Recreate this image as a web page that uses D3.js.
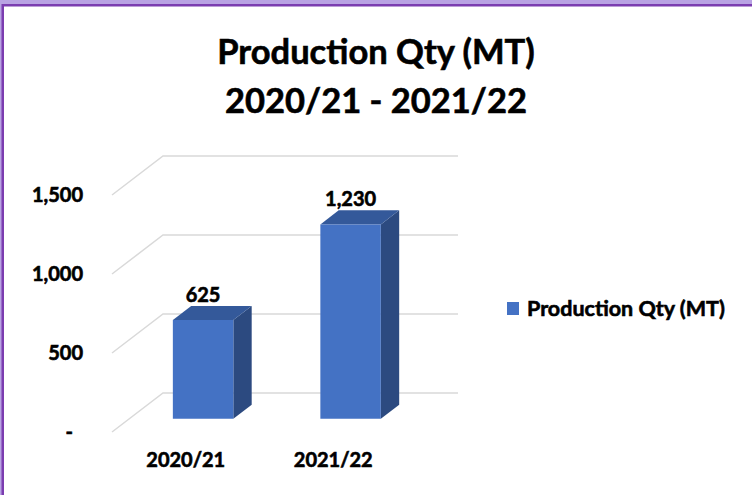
<!DOCTYPE html>
<html>
<head>
<meta charset="utf-8">
<script src="https://cdn.jsdelivr.net/npm/d3@7/dist/d3.min.js"></script>
<style>
  body { margin: 0; background: #fff; }
  text { font-family: Lato, 'Open Sans', sans-serif; font-weight: bold; fill: #000; stroke: #000; stroke-width: 0.6px; }
</style>
</head>
<body>
<svg id="chart" width="752" height="495"></svg>
<script>
// data
const categories = ['2020/21', '2021/22'];
const values = [625, 1230];
const yTicks = [0, 500, 1000, 1500];
const seriesName = 'Production Qty (MT)';
const titleLines = ['Production Qty (MT)', '2020/21 - 2021/22'];

const svg = d3.select('#chart');

// frame (purple border top/left)
svg.append('rect').attr('x', 0).attr('y', 0).attr('width', 752).attr('height', 5).attr('fill', '#b9a3e3');
svg.append('rect').attr('x', 0).attr('y', 0).attr('width', 2).attr('height', 495).attr('fill', '#b9a3e3');
svg.append('rect').attr('x', 2).attr('y', 4).attr('width', 750).attr('height', 2.5).attr('fill', '#7b3db0');
svg.append('rect').attr('x', 1.5).attr('y', 4).attr('width', 2.5).attr('height', 491).attr('fill', '#7b3db0');

// 3d-ish projection: front floor line + depth vector
const floorY = 432, depthX = 51, depthY = 39;
const x = d3.scaleBand().domain(categories).range([112, 407]).paddingInner(0.59).paddingOuter(0.295);
const y = d3.scaleLinear().domain([0, 1500]).range([0, 237]);
const pt = (px, v, t) => [px + t * depthX, floorY - t * depthY - y(v)];

const left = x.range()[0], right = x.range()[1];

// gridlines (side wall + back wall)
svg.append('g').selectAll('polyline')
  .data(yTicks)
  .join('polyline')
  .attr('points', d => [pt(left, d, 0), pt(left, d, 1), pt(right, d, 1)].map(p => p.join(',')).join(' '))
  .attr('fill', 'none')
  .attr('stroke', '#d9d9d9')
  .attr('stroke-width', 1.5);

// y tick labels
svg.append('g').selectAll('text')
  .data(yTicks)
  .join('text')
  .attr('x', 83)
  .attr('dx', d => d === 0 ? -10 : 0)
  .attr('y', d => pt(left, d, 0)[1])
  .attr('dy', '0.36em')
  .attr('text-anchor', 'end')
  .style('font-size', '20px')
  .text(d => d === 0 ? '-' : d3.format(',')(d));

// bars
const t1 = 0.34, t2 = 0.70;
const bw = x.bandwidth();
const bars = svg.append('g').selectAll('g')
  .data(categories.map((c, i) => ({ c, v: values[i] })))
  .join('g');

const poly = pts => pts.map(p => p.join(',')).join(' ');

bars.append('polygon') // side
  .attr('points', d => {
    const x1 = x(d.c) + bw;
    return poly([pt(x1, 0, t1), pt(x1, d.v, t1), pt(x1, d.v, t2), pt(x1, 0, t2)]);
  })
  .attr('fill', '#2c4a80');
bars.append('polygon') // top
  .attr('points', d => {
    const x0 = x(d.c), x1 = x0 + bw;
    return poly([pt(x0, d.v, t1), pt(x1, d.v, t1), pt(x1, d.v, t2), pt(x0, d.v, t2)]);
  })
  .attr('fill', '#34599a');
bars.append('polygon') // front
  .attr('points', d => {
    const x0 = x(d.c), x1 = x0 + bw;
    return poly([pt(x0, 0, t1), pt(x0, d.v, t1), pt(x1, d.v, t1), pt(x1, 0, t1)]);
  })
  .attr('fill', '#4472c4');

// value labels
bars.append('text')
  .attr('x', d => pt(x(d.c) + bw / 2, d.v, t1)[0])
  .attr('y', d => pt(x(d.c), d.v, t2)[1] - 4)
  .attr('text-anchor', 'middle')
  .style('font-size', '20px')
  .text(d => d3.format(',')(d.v));

// category labels
svg.append('g').selectAll('text')
  .data(categories)
  .join('text')
  .attr('x', d => x(d) + bw / 2)
  .attr('y', 467)
  .attr('text-anchor', 'middle')
  .style('font-size', '20px')
  .text(d => d);

// title
svg.append('g').selectAll('text')
  .data(titleLines)
  .join('text')
  .attr('x', 376)
  .attr('y', (d, i) => 64 + i * 49)
  .attr('text-anchor', 'middle')
  .style('font-size', '34.5px')
  .text(d => d);

// legend
const legend = svg.append('g').attr('transform', 'translate(507,302)');
legend.append('rect').attr('width', 12).attr('height', 13).attr('fill', '#4472c4');
legend.append('text')
  .attr('x', 20)
  .attr('y', 6.5)
  .attr('dy', '0.36em')
  .style('font-size', '21.5px')
  .text(seriesName);
</script>
</body>
</html>
